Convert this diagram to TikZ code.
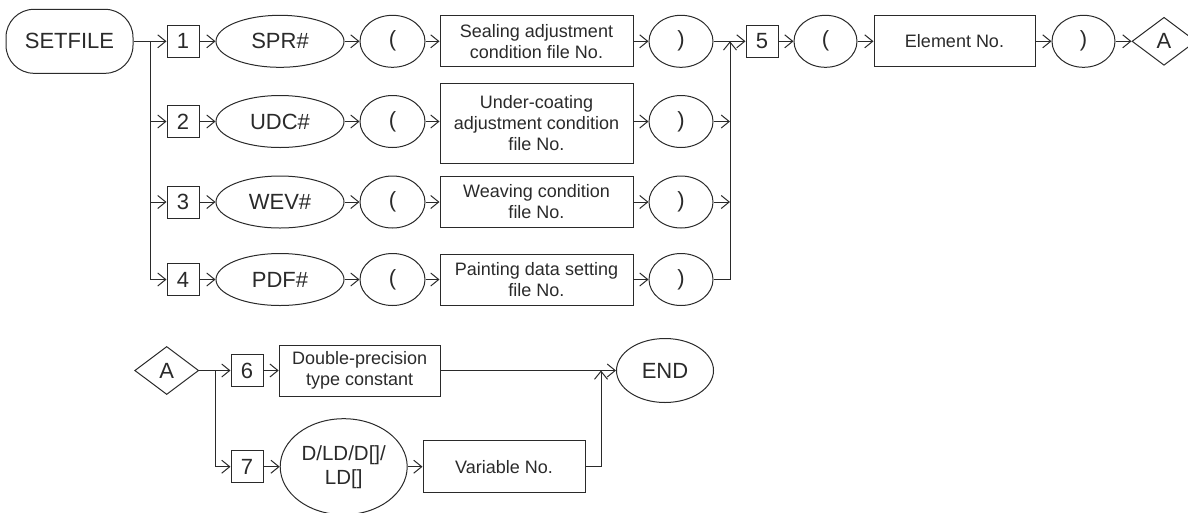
\documentclass[tikz,border=0pt]{standalone}
\usepackage{fontspec}
\setmainfont{Liberation Sans}
\usetikzlibrary{arrows.meta,shapes.geometric}
\definecolor{ink}{HTML}{2A2A2A}
\begin{document}
\begin{tikzpicture}[x=1pt,y=-1pt,line width=1pt,draw=ink,text=ink,
  every node/.style={draw=ink,text=ink,line width=1pt,inner sep=0pt,align=center},
  big/.style={font=\fontsize{22}{26}\selectfont},
  small/.style={font=\fontsize{18}{21}\selectfont},
  numbox/.style={rectangle,minimum width=32pt,minimum height=32pt,big},
  ell/.style={ellipse,minimum width=#1,minimum height=52pt,big},
  txtbox/.style={rectangle,minimum width=193pt,minimum height=#1,small},
  dia/.style={diamond,minimum width=64pt,minimum height=48pt,big},
  arr/.style={-{Straight Barb[length=8pt,width=13pt]}}]
\useasboundingbox (0,0) rectangle (1188,512);
% ---- start
\node[rectangle,rounded corners=28pt,minimum width=127pt,minimum height=64pt,big] (setfile) at (69.5,41.3) {SETFILE};
% ---- row 1
\node[numbox] (n1) at (183,41.3) {1};
\node[ell=128pt] (k1) at (280,41.3) {SPR\#};
\node[ell=65pt] (o1) at (392.5,41.3) {(};
\node[txtbox=51pt] (t1) at (536.5,41.3) {Sealing adjustment\\condition file No.};
\node[ell=64pt] (c1) at (681,41.3) {)};
% ---- row 2
\node[numbox] (n2) at (183,121.5) {2};
\node[ell=128pt] (k2) at (280,121.5) {UDC\#};
\node[ell=65pt] (o2) at (392.5,121.5) {(};
\node[txtbox=80pt] (t2) at (536.5,123.3) {Under-coating\\adjustment condition\\file No.};
\node[ell=64pt] (c2) at (681,121.5) {)};
% ---- row 3
\node[numbox] (n3) at (183,202) {3};
\node[ell=128pt] (k3) at (280,202) {WEV\#};
\node[ell=65pt] (o3) at (392.5,202) {(};
\node[txtbox=51pt] (t3) at (536.5,202) {Weaving condition\\file No.};
\node[ell=64pt] (c3) at (681,202) {)};
% ---- row 4
\node[numbox] (n4) at (183,279.5) {4};
\node[ell=128pt] (k4) at (280,279.5) {PDF\#};
\node[ell=65pt] (o4) at (392.5,279.5) {(};
\node[txtbox=51pt] (t4) at (536.5,279.5) {Painting data setting\\file No.};
\node[ell=64pt] (c4) at (681,279.5) {)};
% ---- after merge
\node[numbox] (n5) at (762,41.3) {5};
\node[ell=63pt] (o5) at (825.5,41.3) {(};
\node[rectangle,minimum width=161pt,minimum height=51pt,small] (elem) at (954.5,41.3) {Element No.};
\node[ell=63pt] (c5) at (1083.5,41.3) {)};
\node[dia] (a1) at (1164,41.3) {A};
% ---- bottom part
\node[dia] (a2) at (166.7,370.5) {A};
\node[numbox] (n6) at (247,370.5) {6};
\node[rectangle,minimum width=161pt,minimum height=51pt,small] (dbl) at (359.7,370.5) {Double-precision\\type constant};
\node[ellipse,minimum width=97pt,minimum height=64pt,big] (end) at (665,370.5) {END};
\node[numbox] (n7) at (247,466.7) {7};
\node[ellipse,minimum width=127pt,minimum height=96pt,font=\fontsize{20.5}{24}\selectfont] (var) at (343.7,466.7) {D/LD/D[]/\\LD[]};
\node[rectangle,minimum width=162pt,minimum height=52pt,small] (vno) at (504,466.7) {Variable No.};
% ---- junction coordinates
\coordinate (bt) at (150.7,41.3);
\coordinate (m1) at (730,41.3);
\coordinate (bj) at (215,370.5);
\coordinate (mj) at (601,370.5);
% ---- connectors top
\draw[arr] (setfile) -- (n1);
\draw[arr] (bt) |- (n4);
\draw[arr] (n2 -| bt) -- (n2);
\draw[arr] (n3 -| bt) -- (n3);
\draw[arr] (n1) -- (k1);
\draw[arr] (k1) -- (o1);
\draw[arr] (o1) -- (t1);
\draw[arr] (t1) -- (c1);
\draw[arr] (n2) -- (k2);
\draw[arr] (k2) -- (o2);
\draw[arr] (o2) -- (t2.west |- o2);
\draw[arr] (t2.east |- c2) -- (c2);
\draw[arr] (n3) -- (k3);
\draw[arr] (k3) -- (o3);
\draw[arr] (o3) -- (t3);
\draw[arr] (t3) -- (c3);
\draw[arr] (n4) -- (k4);
\draw[arr] (k4) -- (o4);
\draw[arr] (o4) -- (t4);
\draw[arr] (t4) -- (c4);
\draw[arr] (c1) -- (n5);
\draw[arr] (c2) -- (c2 -| m1);
\draw[arr] (c3) -- (c3 -| m1);
\draw[arr] (c4) -| (m1);
\draw[arr] (n5) -- (o5);
\draw[arr] (o5) -- (elem);
\draw[arr] (elem) -- (c5);
\draw[arr] (c5) -- (a1);
% ---- connectors bottom
\draw[arr] (a2) -- (n6);
\draw[arr] (bj) |- (n7);
\draw[arr] (n6) -- (dbl);
\draw[arr] (dbl) -- (end);
\draw[arr] (n7) -- (var);
\draw[arr] (var) -- (vno);
\draw[arr] (vno) -| (mj);
\end{tikzpicture}
\end{document}
